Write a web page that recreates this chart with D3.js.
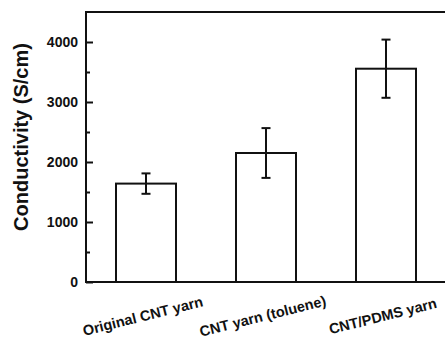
<!DOCTYPE html>
<html>
<head>
<meta charset="utf-8">
<script src="https://cdn.jsdelivr.net/npm/d3@7"></script>
<style>
  body { margin: 0; background: #fff; }
  svg { display: block; font-family: Arial, "Liberation Sans", sans-serif; }
</style>
</head>
<body>
<div id="chart"></div>
<script>
// data
var categories = ["Original CNT yarn", "CNT yarn (toluene)", "CNT/PDMS yarn"];
var values = [1640, 2150, 3555];
var errors = [170, 415, 485];
var yTicks = [0, 1000, 2000, 3000, 4000];
var yMinorTicks = [500, 1500, 2500, 3500];

var width = 445, height = 341;
var margin = {top: 12, right: -1, bottom: 59, left: 86};
var innerW = width - margin.left - margin.right;
var innerH = height - margin.top - margin.bottom;

var svg = d3.select("#chart").append("svg")
    .attr("width", width)
    .attr("height", height);

var g = svg.append("g")
    .attr("transform", "translate(" + margin.left + "," + margin.top + ")");

var x = d3.scaleBand()
    .domain(categories)
    .range([0, innerW])
    .paddingInner(0.5)
    .paddingOuter(0.25);

var y = d3.scaleLinear()
    .domain([0, 4500])
    .range([innerH, 0]);

// bars
g.selectAll("rect.bar")
    .data(values)
    .enter().append("rect")
    .attr("class", "bar")
    .attr("x", function (d, i) { return x(categories[i]); })
    .attr("y", function (d) { return y(d); })
    .attr("width", x.bandwidth())
    .attr("height", function (d) { return y(0) - y(d); })
    .attr("fill", "#fff")
    .attr("stroke", "#111")
    .attr("stroke-width", 2);

// error bars
var eb = g.selectAll("g.err")
    .data(values)
    .enter().append("g")
    .attr("class", "err")
    .attr("stroke", "#111")
    .attr("stroke-width", 2);

eb.append("line")
    .attr("x1", function (d, i) { return x(categories[i]) + x.bandwidth() / 2; })
    .attr("x2", function (d, i) { return x(categories[i]) + x.bandwidth() / 2; })
    .attr("y1", function (d, i) { return y(d + errors[i]); })
    .attr("y2", function (d, i) { return y(d - errors[i]); });

[1, -1].forEach(function (s) {
    eb.append("line")
        .attr("x1", function (d, i) { return x(categories[i]) + x.bandwidth() / 2 - 4.5; })
        .attr("x2", function (d, i) { return x(categories[i]) + x.bandwidth() / 2 + 4.5; })
        .attr("y1", function (d, i) { return y(d + s * errors[i]); })
        .attr("y2", function (d, i) { return y(d + s * errors[i]); });
});

// frame
g.append("rect")
    .attr("width", innerW)
    .attr("height", innerH)
    .attr("fill", "none")
    .attr("stroke", "#111")
    .attr("stroke-width", 2);

// y axis, ticks pointing inward
var yAxis = g.append("g")
    .call(d3.axisRight(y).tickValues(yTicks).tickSize(7).tickFormat(""));
yAxis.select(".domain").remove();
yAxis.selectAll("line").attr("stroke", "#111").attr("stroke-width", 2);

var yMinor = g.append("g")
    .call(d3.axisRight(y).tickValues(yMinorTicks).tickSize(4).tickFormat(""));
yMinor.select(".domain").remove();
yMinor.selectAll("line").attr("stroke", "#111").attr("stroke-width", 2);

g.selectAll("text.ytick")
    .data(yTicks)
    .enter().append("text")
    .attr("class", "ytick")
    .attr("x", -8)
    .attr("y", function (d) { return y(d); })
    .attr("dy", "0.36em")
    .attr("text-anchor", "end")
    .attr("font-size", 14)
    .attr("font-weight", "bold")
    .attr("fill", "#111")
    .text(function (d) { return d; });

// x labels, tilted
g.selectAll("text.xlab")
    .data(categories)
    .enter().append("text")
    .attr("class", "xlab")
    .attr("transform", function (d) {
        return "translate(" + (x(d) + x.bandwidth() / 2 - 2) + "," + (innerH + 39) + ") rotate(-14)";
    })
    .attr("text-anchor", "middle")
    .attr("font-size", 14.5)
    .attr("font-weight", "bold")
    .attr("fill", "#111")
    .text(function (d) { return d; });

// y title
svg.append("text")
    .attr("transform", "translate(28,137) rotate(-90)")
    .attr("text-anchor", "middle")
    .attr("font-size", 20)
    .attr("font-weight", "bold")
    .attr("fill", "#111")
    .text("Conductivity (S/cm)");
</script>
</body>
</html>
